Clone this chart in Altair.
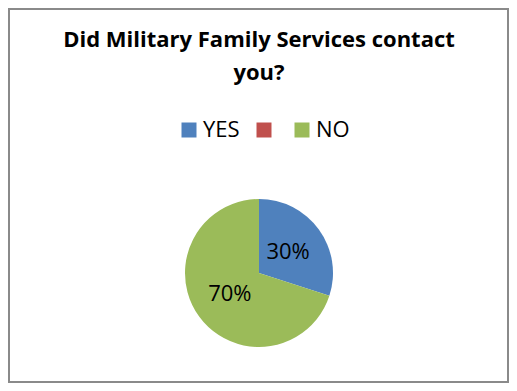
import altair as alt
import pandas as pd

# ---- data ----
categories = ["YES", " ", "NO"]
values = [30, 0, 70]
pct_labels = ["30%", "", "70%"]
colors = ["#4F81BD", "#C0504D", "#9BBB59"]
title_lines = ["Did Military Family Services contact", "you?"]

df = pd.DataFrame({
    "cat": categories,
    "val": values,
    "lab": pct_labels,
    "ord": list(range(len(categories))),
})
title_df = pd.DataFrame({"t": ["\n".join(title_lines)]})

W, H = 499, 373
OFF = 9  # page offset of the chart origin
CX, CY = 259 - OFF, 273 - OFF
R = 74
FONT = "Open Sans"

base = alt.Chart(df).encode(
    theta=alt.Theta("val:Q", stack=True),
    order=alt.Order("ord:Q"),
)

pie = base.mark_arc(radius=R).encode(
    x=alt.value(CX),
    y=alt.value(CY),
    color=alt.Color(
        "cat:N",
        scale=alt.Scale(domain=categories, range=colors),
        legend=alt.Legend(
            title=None,
            orient="none",
            direction="horizontal",
            legendX=178 - OFF,
            legendY=119 - OFF,
            symbolType="square",
            symbolSize=225,
            symbolStrokeWidth=0,
            labelFontSize=22,
            labelFont=FONT,
            labelColor="#000000",
            labelOffset=3,
            labelExpr="trim(datum.label)",
            columnPadding=13,
        ),
    ),
)

labels = base.mark_text(radius=36, fontSize=22, font=FONT, color="#000000").encode(
    x=alt.value(CX),
    y=alt.value(CY),
    text="lab:N",
)

title = alt.Chart(title_df).mark_text(
    font=FONT,
    fontSize=22,
    fontWeight="bold",
    color="#000000",
    lineBreak="\n",
    lineHeight=33,
    baseline="alphabetic",
    align="center",
).encode(
    x=alt.value(259 - OFF),
    y=alt.value(47 - OFF),
    text="t:N",
)

chart = alt.layer(pie, labels, title).properties(
    width=W,
    height=H,
    padding={"left": 1, "top": 1, "right": 1, "bottom": 1},
    autosize=alt.AutoSizeParams(type="none"),
).configure_view(
    stroke="#8a8a8a",
    strokeWidth=2,
)

chart.save("out.html", embed_options={"renderer": "svg", "actions": False})
